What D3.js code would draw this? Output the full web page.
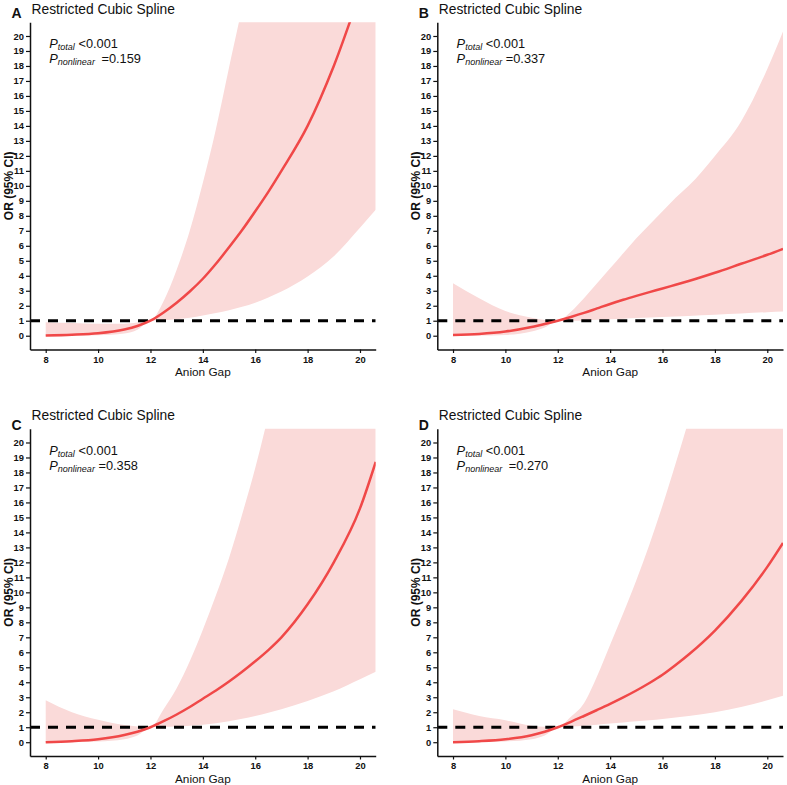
<!DOCTYPE html>
<html><head><meta charset="utf-8">
<script src="https://cdn.jsdelivr.net/npm/d3@7"></script>
<style>
body{margin:0;background:#fff}
svg{display:block}
text{font-family:"Liberation Sans",Arial,Helvetica,sans-serif;fill:#111}
</style>
</head><body>
<svg id="chart" width="787" height="785"></svg>
<script>
// ---------------- data ----------------
const xs = [8, 9, 10, 11, 11.5, 12, 12.5, 13, 13.5, 14, 14.5, 15, 15.5, 16, 16.5, 17, 18, 19, 20, 20.6];

const orA  = [0.02,0.07,0.17,0.42,0.65,1.0,1.55,2.2,2.95,3.8,4.8,5.9,7.05,8.3,9.6,11.0,14.0,18.0,22.8,25.5];
const upA  = [0.9,0.85,0.8,0.8,0.88,1.0,2.3,4.4,7.0,10.2,13.8,17.9,22,27,32,38,50,65,80,90];
const loA  = [0.0,0.01,0.03,0.15,0.4,1.0,1.04,1.1,1.2,1.35,1.52,1.7,1.93,2.2,2.55,2.95,3.95,5.3,7.2,8.4];

const orB  = [0.05,0.12,0.28,0.58,0.78,1.0,1.25,1.52,1.82,2.12,2.4,2.66,2.91,3.15,3.4,3.65,4.2,4.8,5.4,5.8];
const upB  = [3.5,2.5,1.65,1.2,1.05,1.0,1.6,2.5,3.5,4.5,5.5,6.5,7.4,8.3,9.2,10.0,12.0,14.3,17.8,20.3];
const loB  = [0.0,0.01,0.05,0.28,0.55,1.0,1.0,1.02,1.06,1.1,1.14,1.18,1.22,1.25,1.29,1.32,1.4,1.48,1.57,1.62];

const orC  = [0.0,0.07,0.2,0.48,0.7,1.0,1.4,1.85,2.35,2.9,3.45,4.05,4.7,5.4,6.15,7.0,9.2,12.0,15.6,18.7];
const upC  = [2.8,2.0,1.5,1.15,1.05,1.0,2.2,3.6,5.4,7.5,9.8,12.3,15.2,18.3,21.8,25.5,34,44,56,64];
const loC  = [0.0,0.01,0.05,0.2,0.45,1.0,1.02,1.05,1.1,1.17,1.27,1.4,1.56,1.75,1.97,2.2,2.75,3.4,4.2,4.7];

const orD  = [0.0,0.07,0.2,0.47,0.7,1.0,1.36,1.75,2.15,2.56,2.99,3.45,3.95,4.5,5.15,5.85,7.45,9.4,11.7,13.3];
const upD  = [2.2,1.75,1.47,1.1,1.03,1.0,1.7,2.6,4.4,6.5,8.6,10.8,13.2,15.8,18.6,21.5,28,36,45,52];
const loD  = [0.0,0.01,0.05,0.2,0.45,1.0,1.05,1.1,1.17,1.25,1.32,1.4,1.47,1.55,1.65,1.75,2.0,2.35,2.8,3.1];

const panelLetters = ["A","B","C","D"];
const panelTitle = "Restricted Cubic Spline";
const pTotal = ["<0.001","<0.001","<0.001","<0.001"];
const pNonlinear = ["0.159","0.337","0.358","0.270"];
const xTicks = [8,10,12,14,16,18,20];
const yTicks = [0,1,2,3,4,5,6,7,8,9,10,11,12,13,14,15,16,17,18,19,20];
const xLabel = "Anion Gap";
const yLabel = "OR (95% CI)";
const refLine = 1;

const series = [
  {or: orA, lo: loA, up: upA},
  {or: orB, lo: loB, up: upB},
  {or: orC, lo: loC, up: upC},
  {or: orD, lo: loD, up: upD}
];

// ---------------- layout ----------------
const svg = d3.select("#chart");
const colOff = [0, 407.3, 0, 407.3];
const rowOff = [0, 0, 406.5, 406.5];
const plotL = 30, plotR = 375.7, plotT = 22.2, plotB = 349.5;
const lineColor = "#F04848";
const bandColor = "#FADAD9";

const x = d3.scaleLinear().domain([7.4, 20.6]).range([plotL, plotR]);
const y = d3.scaleLinear().domain([-0.92, 20.92]).range([plotB, plotT]);

const defs = svg.append("defs");
defs.append("clipPath").attr("id","plotclip")
  .append("rect").attr("x",plotL).attr("y",plotT).attr("width",plotR-plotL).attr("height",plotB-plotT);

series.forEach((s, i) => {
  const g = svg.append("g").attr("transform", `translate(${colOff[i]},${rowOff[i]})`);
  const rows = xs.map((xv, k) => ({x: xv, or: s.or[k], lo: s.lo[k], up: s.up[k]}));

  const clipG = g.append("g").attr("clip-path","url(#plotclip)");
  const area = d3.area().x(d => x(d.x)).y0(d => y(d.lo)).y1(d => y(d.up)).curve(d3.curveMonotoneX);
  clipG.append("path").datum(rows).attr("d", area).attr("fill", bandColor);

  clipG.append("line")
    .attr("x1", x(7.4)).attr("x2", x(20.6))
    .attr("y1", y(refLine)).attr("y2", y(refLine))
    .attr("stroke","#000").attr("stroke-width",3).attr("stroke-dasharray","10,8");

  const line = d3.line().x(d => x(d.x)).y(d => y(d.or)).curve(d3.curveMonotoneX);
  clipG.append("path").datum(rows).attr("d", line)
    .attr("fill","none").attr("stroke", lineColor).attr("stroke-width",2.5);

  // axes
  const ay = g.append("g").attr("transform",`translate(${plotL},0)`)
    .call(d3.axisLeft(y).tickValues(yTicks).tickSize(4).tickSizeOuter(0).tickPadding(2));
  const ax = g.append("g").attr("transform",`translate(0,${plotB})`)
    .call(d3.axisBottom(x).tickValues(xTicks).tickSize(3.5).tickSizeOuter(0).tickPadding(3));
  [ay, ax].forEach(a => {
    a.select(".domain").attr("stroke","#111").attr("stroke-width",1.5);
    a.selectAll(".tick line").attr("stroke","#111").attr("stroke-width",1.2);
    a.selectAll(".tick text").attr("font-family","'Liberation Sans',Arial,sans-serif")
      .attr("font-size",9.4).attr("font-weight","bold").attr("fill","#1a1a1a");
  });

  // axis titles
  g.append("text").attr("x",(plotL+plotR)/2).attr("y",782.5-406.5)
    .attr("text-anchor","middle").attr("font-size",11.8).text(xLabel);
  g.append("text").attr("transform",`translate(12.5,${(plotT+plotB)/2}) rotate(-90)`)
    .attr("text-anchor","middle").attr("font-size",12).attr("font-weight","bold").text(yLabel);

  // title + panel letter
  g.append("text").attr("x",31.5).attr("y",13.5).attr("font-size",13.8).text(panelTitle);
  const letterY = i < 2 ? 18.4 : 23;
  g.append("text").attr("x",11.5).attr("y",letterY).attr("font-size",14).attr("font-weight","bold").text(panelLetters[i]);

  // p-values
  const t1 = g.append("text").attr("x",49.3).attr("y",48).attr("font-size",12.8);
  t1.append("tspan").attr("font-style","italic").text("P");
  t1.append("tspan").attr("font-style","italic").attr("font-size",9).attr("dy",2).text("total");
  t1.append("tspan").attr("dy",-2).text(" " + pTotal[i]);
  const t2 = g.append("text").attr("x",49.3).attr("y",63).attr("font-size",12.8);
  t2.append("tspan").attr("font-style","italic").text("P");
  t2.append("tspan").attr("font-style","italic").attr("font-size",9).attr("dy",2).text("nonlinear");
  t2.append("tspan").attr("dy",-2).attr("dx", (i===0||i===3) ? 3 : 0).text(" =" + pNonlinear[i]);
});
</script>
</body></html>
